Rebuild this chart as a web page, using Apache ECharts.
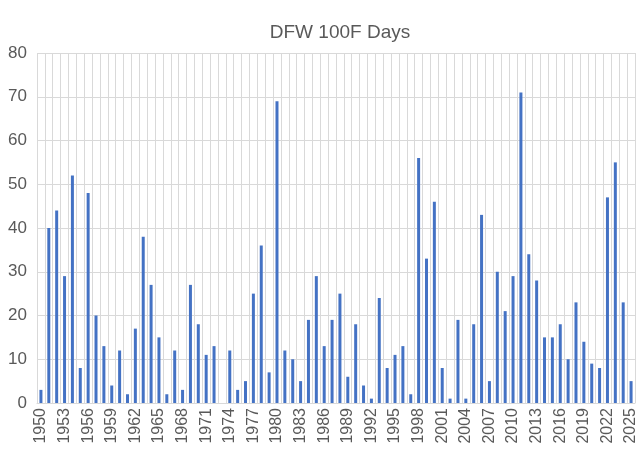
<!DOCTYPE html>
<html>
<head>
<meta charset="utf-8">
<script src="https://cdn.jsdelivr.net/npm/echarts@6/dist/echarts.min.js"></script>
<style>
  html, body { margin: 0; padding: 0; background: #fff; }
  #chart { width: 640px; height: 449px; }
</style>
</head>
<body>
<div id="chart"></div>
<script>
// years 1950 - 2025
const years = [];
for (let y = 1950; y <= 2025; y++) years.push(String(y));

// number of 100F days at DFW
const days = [
  3, 40, 44, 29, 52, 8, 48, 20, 13, 4,      // 1950-1959
  12, 2, 17, 38, 27, 15, 2, 12, 3, 27,      // 1960-1969
  18, 11, 13, 0, 12, 3, 5, 25, 36, 7,       // 1970-1979
  69, 12, 10, 5, 19, 29, 13, 19, 25, 6,     // 1980-1989
  18, 4, 1, 24, 8, 11, 13, 2, 56, 33,       // 1990-1999
  46, 8, 1, 19, 1, 18, 43, 5, 30, 21,       // 2000-2009
  29, 71, 34, 28, 15, 15, 18, 10, 23, 14,   // 2010-2019
  9, 8, 47, 55, 23, 5                       // 2020-2025
];

const labelColor = '#595959';
const gridColor = '#d9d9d9';

let chart = echarts.init(document.getElementById('chart'));
let option = {
  backgroundColor: '#fff',
  animation: false,
  title: {
    text: 'DFW 100F Days',
    left: 335,
    top: 18,
    textAlign: 'center',
    textStyle: {
      color: labelColor,
      fontFamily: 'Liberation Sans',
      fontWeight: 'normal',
      fontSize: 19
    }
  },
  grid: {
    left: 37,
    right: 5,
    top: 53,
    bottom: 46,
    containLabel: false
  },
  xAxis: {
    type: 'category',
    data: years,
    boundaryGap: true,
    axisLine: { lineStyle: { color: gridColor } },
    axisTick: { show: false },
    splitLine: { show: true, interval: 0, lineStyle: { color: gridColor } },
    axisLabel: {
      interval: 2,
      rotate: 90,
      margin: 5,
      color: labelColor,
      fontFamily: 'Liberation Sans',
      fontSize: 16
    }
  },
  yAxis: {
    type: 'value',
    min: 0,
    max: 80,
    interval: 10,
    axisLine: { show: false },
    axisTick: { show: false },
    splitLine: { lineStyle: { color: gridColor } },
    axisLabel: {
      margin: 10,
      color: labelColor,
      fontFamily: 'Liberation Sans',
      fontSize: 17
    }
  },
  series: [{
    type: 'bar',
    data: days,
    barWidth: 3,
    itemStyle: { color: '#4472c4' }
  }]
};
chart.setOption(option);
</script>
</body>
</html>
